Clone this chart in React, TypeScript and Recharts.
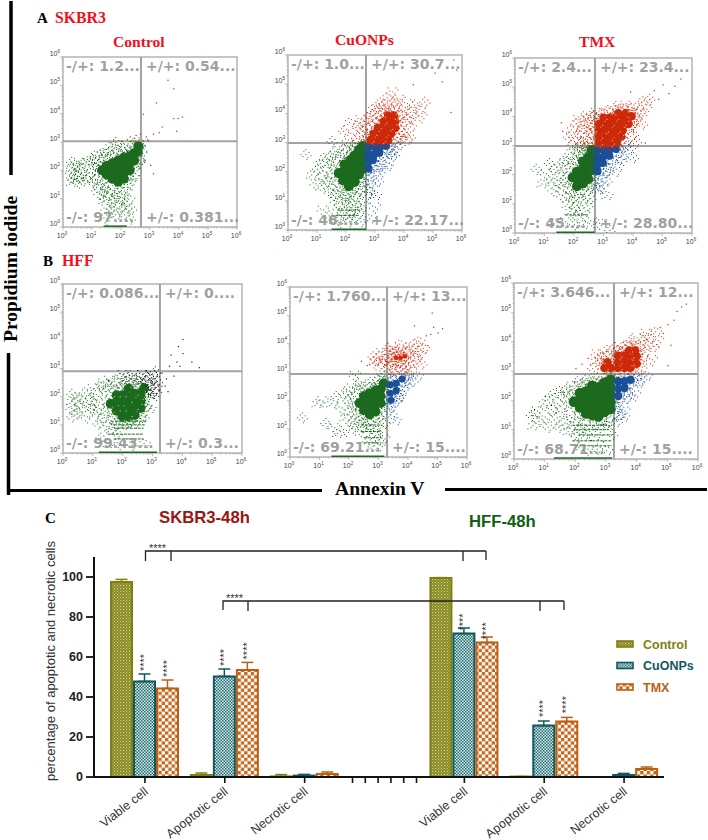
import React from "react";
import {
  BarChart, Bar, XAxis, YAxis, ErrorBar, LabelList, Label,
  ScatterChart, Scatter, ReferenceLine, ReferenceArea,
} from "recharts";

type P = [number, number];

// ---- flow cytometry clouds (log10 Annexin V, log10 PI) ----
const a1GreenCore: P[] = [[1.35,2],[1.5,1.85],[1.5,2.15],[1.7,1.7],[1.7,2],[1.7,2.25],[1.9,1.6],[1.9,1.85],[1.9,2.1],[1.9,2.35],[2.1,1.7],[2.1,1.95],[2.1,2.2],[2.1,2.45],[2.3,2],[2.3,2.25],[2.3,2.5],[2.45,2.35],[2.45,2.6],[2.58,2.65],[2.6,2.85]];
const a1GreenDots: P[] = [[.28,2.3],[.28,2.1],[.28,1.95],[.28,1.75],[.28,1.6],[.42,2.2],[.42,1.9],[.42,1.7],[.55,2.3],[.55,2.05],[.55,1.8],[.55,1.6],[.68,2.25],[.68,2.1],[.68,1.85],[.68,1.65],[.85,2.35],[.9,1.8],[1,2.4],[1,2.15],[1,1.9],[1,1.6],[1.1,2.55],[1.1,2.25],[1.1,1.7],[1.15,1.4],[1.2,2.4],[1.2,2.05],[1.2,1.5],[1.25,1.2],[1.3,2.3],[1.3,2.6],[1.35,1.55],[1.35,1.25],[1.4,.95],[1.45,2.5],[1.45,1.4],[1.45,1.1],[1.5,.65],[1.55,2.65],[1.55,1.25],[1.6,.95],[1.65,.65],[1.7,2.7],[1.7,1.3],[1.75,1.05],[1.8,.8],[1.85,2.6],[1.85,1.2],[1.9,.95],[1.95,.65],[2,2.75],[2,1.3],[2.05,1.05],[2.1,.85],[2.15,.65],[2.2,1.25],[2.2,2.7],[2.25,1],[2.3,1.55],[2.35,.65],[2.4,1.8],[2.2,2.9],[2.4,2.95],[2.5,2.2],[2.55,2.45],[1.8,3],[1.6,2.85],[2.65,2.3],[2.3,1.75],[1.4,2.65],[1.9,2.9],[2.1,.45],[1.8,.45],[1.5,.3],[2.3,.3]];
const a1Red: P[] = [[2,3.05],[2.2,3.1],[2.3,3.2],[2.4,3.05],[2.5,3.25],[2.6,3.1],[2.75,3.05],[2.9,3.1],[3.1,3.3],[3.3,3.35],[2.85,3.2],[3.4,3.55],[3.8,3.85],[3.95,3.85],[4.1,3.9],[3.6,5.2],[3.8,4.9],[2.75,4],[3.2,4.4],[3.9,3.4],[2.45,3.15],[2.65,3.3]];
const a1Blue: P[] = [[2.72,2.92],[2.75,2.82],[2.8,2.9],[2.8,2.3],[3,2.2],[3.1,1.9]];

const a2GreenCore: P[] = [[1.75,1.95],[1.9,1.7],[1.9,2],[1.95,2.25],[2.1,1.5],[2.1,1.8],[2.1,2.1],[2.15,2.4],[2.3,1.65],[2.3,1.95],[2.3,2.25],[2.3,2.55],[2.45,1.9],[2.45,2.2],[2.45,2.5],[2.45,2.75],[2.58,2.1],[2.58,2.4],[2.58,2.65],[2.58,2.88]];
const a2GreenDots: P[] = [[.6,2.6],[.8,1.9],[.95,1.6],[1,2.1],[1.1,2.3],[1.15,1.75],[1.2,1.45],[1.25,2.5],[1.3,2],[1.35,1.7],[1.35,2.3],[1.45,1.45],[1.45,2.55],[1.5,2.1],[1.5,1.8],[1.55,1.2],[1.55,2.35],[1.6,1.55],[1.6,2.7],[1.65,1.9],[1.65,1],[1.7,2.5],[1.7,1.35],[1.75,.75],[1.8,1.15],[1.8,2.65],[1.85,.95],[1.85,1.4],[1.9,2.8],[1.9,.6],[1.95,1.2],[2,.85],[2,2.6],[2.05,1.1],[2.05,.45],[2.1,2.8],[2.15,.95],[2.15,1.3],[2.2,.65],[2.2,2.9],[2.25,1.15],[2.3,.85],[2.3,.45],[2.35,1.3],[2.4,2.95],[2.45,1],[2.45,.65],[2.5,1.4],[2.5,.3],[2.55,1.65],[2.6,.85],[2.65,1.5],[2.65,1.2],[1.2,.7],[1.4,.5],[1.6,.35],[1.8,.3],[2.1,.3],[2,3],[2.25,2.75],[1.5,3.05]];
const a2BlueCore: P[] = [[2.78,2.85],[2.98,2.85],[3.18,2.85],[3.38,2.88],[2.78,2.6],[2.98,2.6],[3.15,2.65],[2.78,2.35],[2.93,2.4],[2.78,2.1]];
const a2BlueDots: P[] = [[3.5,2.9],[3.6,2.75],[3.7,2.9],[3.85,2.95],[3.45,2.6],[3.3,2.4],[3.15,2.3],[3.05,2.1],[2.95,1.95],[2.85,1.8],[2.78,1.6],[2.9,1.45],[3.1,1.7],[3.4,2.2],[3.55,2.45],[2.8,1.3],[3,1.2],[3.25,2.05],[3.65,2.6],[2.8,.4],[3,.8]];
const a2RedCore: P[] = [[2.85,3.08],[3.05,3.08],[3.25,3.08],[3.45,3.08],[2.95,3.3],[3.15,3.3],[3.35,3.3],[3.55,3.3],[3.1,3.5],[3.3,3.52],[3.5,3.52],[3.7,3.5],[3.3,3.72],[3.5,3.72],[3.7,3.72],[3.45,3.92],[3.65,3.92]];
const a2RedDots: P[] = [[1.9,3.4],[2.1,3.7],[2.25,3.3],[2.35,3.15],[2.4,3.6],[2.5,3.8],[2.55,3.4],[2.6,3.1],[2.65,3.55],[2.7,3.85],[2.75,3.3],[2.8,3.6],[2.85,3.9],[2.9,4.15],[2.95,3.7],[3,4],[3.05,4.25],[3.1,3.8],[3.15,4.1],[3.2,4.4],[3.3,4.05],[3.3,4.3],[3.4,4.55],[3.45,4.2],[3.55,4.1],[3.6,4.4],[3.7,4.05],[3.75,4.3],[3.85,3.95],[3.85,4.5],[3.9,3.4],[3.95,3.7],[4,4.1],[4,3.3],[4.1,3.8],[4.1,4.35],[4.2,4.05],[4.2,3.55],[4.3,3.85],[4.35,4.3],[4.5,4.15],[4.6,3.9],[4.7,4.4],[4.05,3.1],[3.85,3.15],[4.2,3.2],[3.75,3.2],[3.6,4.75]];
const a2RedFar: P[] = [[4.3,5],[5.05,5.4],[5.3,5.1],[5.7,5.85],[5.8,5.5],[5.6,4.05]];

const a3GreenCore: P[] = [[1.95,1.9],[2.1,1.6],[2.1,1.85],[2.1,2.1],[2.3,1.7],[2.3,1.95],[2.3,2.2],[2.3,2.45],[2.48,1.85],[2.48,2.1],[2.48,2.35],[2.48,2.6],[2.6,2.15],[2.6,2.4],[2.6,2.65],[2.6,2.85]];
const a3GreenDots: P[] = [[.7,2.2],[.9,1.7],[1.05,2.05],[1.15,2.4],[1.2,1.8],[1.3,1.5],[1.3,2.2],[1.4,1.95],[1.45,1.6],[1.5,2.35],[1.55,1.75],[1.6,1.3],[1.6,2.15],[1.65,2.5],[1.7,1.6],[1.7,1.9],[1.75,1],[1.8,1.35],[1.8,2.4],[1.85,.75],[1.85,2.6],[1.9,1.15],[1.9,1.5],[1.95,2.25],[2,.9],[2,1.3],[2,2.75],[2.05,.6],[2.1,2.5],[2.15,1.1],[2.2,.8],[2.2,1.4],[2.2,2.8],[2.25,2.6],[2.3,1.15],[2.35,.65],[2.35,2.95],[2.4,1.45],[2.4,2.8],[2.45,.95],[2.5,1.6],[2.5,2.95],[2.55,1.2],[2.6,1.8],[2.65,.4],[2.65,1.5],[1.3,.35],[1.7,.4],[2,.3],[2.3,.3],[1.95,2.9],[2.1,2.95],[2.25,3]];
const a3BlueCore: P[] = [[2.8,2.85],[3,2.85],[3.2,2.85],[3.42,2.88],[2.8,2.6],[3,2.62],[3.2,2.65],[2.8,2.35],[2.98,2.4],[2.8,2.12]];
const a3BlueDots: P[] = [[3.55,2.85],[3.65,2.7],[3.75,2.92],[3.9,2.95],[3.45,2.5],[3.3,2.35],[3.15,2.2],[3,2.05],[2.9,1.85],[2.8,1.7],[2.78,1.5],[2.95,1.6],[3.1,1.8],[3.35,2.1],[3.6,2.4],[4,2.6],[3.1,1.3],[2.85,.35],[3.2,.1]];
const a3RedCore: P[] = [[2.85,3.08],[3.05,3.08],[3.25,3.08],[3.45,3.1],[2.85,3.3],[3.05,3.3],[3.25,3.3],[3.45,3.32],[3.6,3.3],[2.85,3.52],[3.05,3.52],[3.25,3.52],[3.45,3.52],[3.65,3.52],[2.85,3.74],[3.05,3.74],[3.25,3.74],[3.45,3.74],[3.65,3.74],[3.85,3.74],[3,3.95],[3.2,3.95],[3.4,3.95],[3.6,3.95],[3.8,3.95],[3.5,4.1],[3.75,4.1],[3.95,4]];
const a3RedDots: P[] = [[1.8,3.3],[1.9,3.55],[2,3.15],[2.05,3.75],[2.1,3.4],[2.15,3.9],[2.2,3.1],[2.25,3.6],[2.3,3.3],[2.3,4],[2.35,3.75],[2.4,3.15],[2.4,3.5],[2.45,3.95],[2.5,3.3],[2.5,3.7],[2.55,4.05],[2.55,3.1],[2.6,3.5],[2.6,3.85],[2.65,3.25],[2.65,4.05],[2.7,3.7],[2.75,4.15],[2.9,4.1],[3.1,4.2],[3.3,4.25],[3.4,4.35],[3.6,4.3],[3.75,4.4],[3.85,4.25],[3.95,4.3],[4,3.7],[4,3.4],[4.05,4.15],[4.1,3.9],[4.1,3.15],[4.2,4.4],[4.25,4.1],[4.3,3.75],[4.35,4.55],[4.45,4.25],[4.55,4.6],[3.75,3.15]];
const a3RedFar: P[] = [[1.55,3.8],[1.6,3.5],[4.7,4.9],[4.85,4.6],[3.9,4.85],[5,5.1],[5.2,4.8],[5.4,5.05],[5.6,5.3],[4.4,3.1]];

const b1GreenCore: P[] = [[1.6,1.75],[1.8,1.5],[1.8,1.8],[1.8,2.05],[2,1.3],[2,1.55],[2,1.8],[2,2.05],[2.2,1.3],[2.2,1.55],[2.2,1.8],[2.2,2.05],[2.2,2.28],[2.4,1.35],[2.4,1.6],[2.4,1.85],[2.4,2.1],[2.6,1.6],[2.6,1.85],[2.6,2.1],[2.72,2.3]];
const b1GreenDots: P[] = [[.28,2.1],[.28,1.85],[.28,1.6],[.28,1.3],[.45,2],[.45,1.7],[.45,1.4],[.55,1.9],[.55,1.55],[.7,2.15],[.7,1.7],[.8,1.3],[.9,1.95],[.9,1.6],[1,2.3],[1,1.75],[1.05,1.4],[1.1,2.1],[1.15,1.05],[1.2,2.4],[1.2,1.6],[1.3,1.9],[1.3,1.25],[1.35,2.5],[1.4,2.2],[1.4,1.5],[1.45,.95],[1.5,2.4],[1.5,1.2],[1.55,2.6],[1.6,.85],[1.6,2.3],[1.65,1.3],[1.7,2.55],[1.7,1],[1.8,2.4],[1.8,.7],[1.85,1.15],[1.9,2.65],[1.95,2.4],[2,1],[2.05,2.7],[2.1,2.5],[2.15,1.05],[2.2,2.7],[2.3,2.55],[2.35,1.05],[2.4,2.8],[2.5,2.45],[2.55,1.25],[2.6,2.7],[2.7,1.3],[2.75,1.65],[2.8,1.9],[2.85,2.1],[2.9,1.6],[3,2.2],[1.25,.55],[1.5,.35],[1.9,.35],[2.3,.3],[2.7,.35]];
const b1Dark: P[] = [[2.75,2.55],[2.8,2.75],[2.85,2.35],[2.9,2.6],[2.92,2.1],[2.95,2.8],[3,2.45],[3,2.2],[3.05,2.65],[3.08,2.9],[3.1,2.35],[3.12,2.1],[3.15,2.55],[2.6,2.55],[2.65,2.8],[2.45,2.65],[2.25,2.65],[2,2.8]];
const b1DarkFar: P[] = [[3.4,2.4],[3.5,2.2],[3.45,2.65],[3.3,2.85],[3.7,2.75],[3.55,3.1],[3.8,3.25],[4,3.55],[4.3,3.25],[4.55,3.05],[3.9,3.1],[3.6,3.5],[4,4.05],[3.85,3.8],[1.5,2.6],[1.2,2.3],[.95,2],[1.05,1.7]];

const b2GreenCore: P[] = [[2.35,1.9],[2.5,1.65],[2.5,1.9],[2.5,2.15],[2.7,1.5],[2.7,1.75],[2.7,2],[2.7,2.25],[2.9,1.6],[2.9,1.85],[2.9,2.1],[2.9,2.35],[3.08,1.9],[3.08,2.15],[3.08,2.4],[3.17,2.6]];
const b2GreenDots: P[] = [[.4,1.4],[.9,1.9],[1.1,2],[1.2,1.2],[1.4,1.9],[1.5,1.05],[1.55,2.15],[1.6,.85],[1.75,1.75],[1.8,2.25],[1.85,1.4],[1.9,.95],[1.95,2],[2,1.6],[2,2.35],[2.05,1.2],[2.1,1.85],[2.1,2.45],[2.15,1.5],[2.2,2.15],[2.2,1],[2.25,1.25],[2.25,2.4],[2.3,1.65],[2.3,2.6],[2.35,1.3],[2.4,.95],[2.4,2.45],[2.45,1.15],[2.55,1.35],[2.55,2.55],[2.6,1],[2.65,1.2],[2.7,2.65],[2.75,.85],[2.8,1.3],[2.85,2.65],[2.9,1.1],[2.95,.7],[3,1.4],[3,2.75],[3.05,.95],[3.1,1.55],[3.15,1.2],[3.2,.65],[2.6,.55],[2.8,.4],[3.05,.45],[3.1,2.95],[3.2,2.9],[2.2,2.9]];
const b2BlueCore: P[] = [[3.4,2.55],[3.6,2.6],[3.8,2.75],[3.4,2.25],[3.6,2.35],[3.42,2]];
const b2BlueDots: P[] = [[3.35,1.7],[3.4,1.5],[3.5,1.85],[3.6,2],[3.7,2.15],[3.8,2.4],[3.95,2.55],[3.55,1.3],[4,2.8],[4.15,2.7],[4.3,2.88],[3.6,2.85],[3.4,2.85],[3.9,2.88],[3.75,2.2]];
const b2RedCore: P[] = [[3.6,3.5],[3.75,3.5],[3.9,3.55]];
const b2RedDots: P[] = [[2.8,3.55],[2.85,3.4],[2.9,3.3],[3,3.55],[3.05,3.35],[3.1,3.7],[3.2,3.45],[3.25,3.25],[3.3,3.6],[3.3,3.85],[3.35,3.35],[3.4,3.1],[3.4,3.65],[3.45,3.45],[3.45,3.9],[3.5,3.3],[3.5,3.7],[3.55,3.1],[3.55,3.45],[3.6,3.75],[3.65,3.25],[3.65,3.65],[3.7,4],[3.75,3.75],[3.75,3.05],[3.8,3.3],[3.85,3.75],[3.9,3.2],[3.95,3.9],[4,3.55],[4,3.3],[4.05,3.8],[4.1,3.05],[4.15,3.6],[4.2,4],[4.25,3.4],[4.3,3.75],[4.35,4.1],[4.4,3.6],[4.45,3.3],[4.5,3.85],[3.95,3.1]];
const b2RedFar: P[] = [[2.4,3.4],[2.6,3.25],[4.6,4.3],[4.65,3.95],[4.75,4.35],[4.85,4.6],[5,4.4],[5.15,4.55],[4.8,5.1],[4.2,4.65]];

const b3GreenCore: P[] = [[1.95,1.95],[2.15,1.75],[2.15,2],[2.15,2.25],[2.35,1.55],[2.35,1.8],[2.35,2.05],[2.35,2.3],[2.55,1.5],[2.55,1.75],[2.55,2],[2.55,2.25],[2.55,2.5],[2.75,1.45],[2.75,1.7],[2.75,1.95],[2.75,2.2],[2.75,2.45],[2.95,1.6],[2.95,1.85],[2.95,2.1],[2.95,2.35],[2.95,2.6],[3.15,1.7],[3.15,1.95],[3.15,2.2],[3.15,2.45],[3.15,2.7]];
const b3GreenDots: P[] = [[.55,1.5],[.6,1.15],[.75,1.65],[.8,1.3],[.95,1.9],[1,1.45],[1.1,1.1],[1.15,2.1],[1.2,1.7],[1.3,1.35],[1.3,2.25],[1.4,1.9],[1.45,1.1],[1.5,2.35],[1.55,1.6],[1.6,2.1],[1.65,1.25],[1.7,1.85],[1.7,2.4],[1.75,.95],[1.8,1.5],[1.8,2.2],[1.85,1.15],[1.9,2.5],[1.95,.85],[2,1.35],[2,2.35],[2.05,2.65],[2.1,1],[2.15,1.4],[2.2,2.5],[2.25,.8],[2.3,1.2],[2.3,2.7],[2.4,2.55],[2.45,.95],[2.5,2.75],[2.6,1.15],[2.65,2.65],[2.7,.85],[2.8,1.15],[2.85,2.8],[3,1.2],[3.05,2.85],[3.15,1.25],[3.2,.85],[2.1,.4],[2.4,.35],[2.7,.35],[3,.3]];
const b3Dark: P[] = [[.6,1.5],[.65,1.7],[1,2.15],[1.2,1.85],[1.35,1.6],[1.55,2.3],[1.7,1.45],[1.95,2.65],[2.9,1.2],[3,1.3],[3.1,1.15],[3.2,1.35],[2.1,.6],[2.5,.65],[2.9,.6],[2.2,2.75]];
const b3BlueCore: P[] = [[3.4,2.65],[3.6,2.65],[3.8,2.7],[3.4,2.4],[3.6,2.42],[3.4,2.15]];
const b3BlueDots: P[] = [[3.95,2.8],[4.05,2.6],[3.85,2.4],[3.75,2.2],[3.6,2.05],[3.5,1.85],[3.35,1.75],[3.4,1.5],[3.6,1.65],[4.15,2.75],[4.3,2.85],[3.95,2.2],[3.35,1.3],[3.55,1.45]];
const b3RedCore: P[] = [[2.95,3.1],[3.15,3.1],[3.4,3.1],[3.6,3.1],[3.8,3.1],[3.05,3.3],[3.4,3.3],[3.6,3.3],[3.8,3.3],[4,3.25],[3.4,3.52],[3.6,3.52],[3.8,3.52],[4,3.5],[3.75,3.7],[3.95,3.7]];
const b3RedDots: P[] = [[2.55,3.1],[2.65,3.35],[2.7,3.6],[2.8,3.45],[2.85,3.3],[2.9,3.6],[3,3.5],[3.05,3.75],[3.2,3.55],[3.25,3.8],[3.35,3.7],[3.45,3.85],[3.5,3.65],[3.6,3.9],[3.7,3.85],[3.8,4.05],[3.9,3.9],[4,4.15],[4.1,3.85],[4.1,3.4],[4.15,3.05],[4.2,4.05],[4.25,3.65],[4.3,4.3],[4.35,3.9],[4.4,4.15],[4.5,3.4],[4.55,3.85],[4.6,4.35],[4.7,4.05]];
const b3RedFar: P[] = [[2,3.1],[2.2,3.25],[2.4,3.45],[4.75,4.5],[4.85,4.3],[5,4.6],[5.1,3.9],[5,3.2],[5.3,5.05],[5.45,5.2],[5.6,5.3],[5.2,4.75]];

// short horizontal rows of events at the low PI channels and on the axis
const a1Rows: P[][] = [[[1.4,.03],[2.2,.03]]];
const a2Rows: P[][] = [[[1.5,.03],[2.7,.03]],[[1.5,.5],[2.4,.5]],[[1.7,.68],[2.5,.68]]];
const a3Rows: P[][] = [[[1.4,.03],[2.7,.03]],[[1.7,.62],[2.5,.62]]];
const b1Rows: P[][] = [[[1.2,.03],[3.15,.03]],[[1.75,1.13],[2.8,1.13]],[[1.7,1],[2.75,1]],[[1.7,.88],[2.7,.88]],[[1.5,.67],[2.7,.67]],[[1.7,.5],[2.7,.5]]];
const b2Rows: P[][] = [[[1.4,.03],[3.2,.03]],[[2.4,1.13],[3.1,1.13]],[[2.4,.9],[3.1,.9]],[[2.5,.68],[3.1,.68]],[[2.5,.5],[3.1,.5]]];
const b3Rows: P[][] = [[[1.3,.03],[3.2,.03]],[[1.9,1.15],[3.1,1.15]],[[2,1],[3.1,1]],[[2.1,.82],[3.2,.82]],[[1.9,.62],[3.2,.62]],[[2,.45],[3.2,.45]]];

// ---- flow panel labels ----
const panelNames = ["Control", "CuONPs", "TMX"];
const a1Quad = ["-/+: 1.2...", "+/+: 0.54...", "-/-: 97....", "+/-: 0.381..."];
const a2Quad = ["-/+: 1.0...", "+/+: 30.7...", "-/-: 46....", "+/-: 22.17..."];
const a3Quad = ["-/+: 2.4...", "+/+: 23.4...", "-/-: 45....", "+/-: 28.80..."];
const b1Quad = ["-/+: 0.086...", "+/+: 0....", "-/-: 99.43...", "+/-: 0.3..."];
const b2Quad = ["-/+: 1.760...", "+/+: 13...", "-/-: 69.21...", "+/-: 15...."];
const b3Quad = ["-/+: 3.646...", "+/+: 12...", "-/-: 68.71...", "+/-: 15...."];
const decades = [1, 10, 100, 1000, 10000, 100000, 1000000];
const minorSteps = [2, 3, 4, 5, 6, 7, 8, 9];

// ---- bar chart data ----
const categories = ["Viable cell", "Apoptotic cell", "Necrotic cell", "", "Viable cell", "Apoptotic cell", "Necrotic cell"];
const controlValues = [97.5, 1, 0.3, null, 99.5, 0.2, 0];
const cuonpValues = [47.8, 50.3, 0.7, null, 71.7, 25.7, 1];
const tmxValues = [44.3, 53.5, 1.5, null, 67.3, 27.7, 4];
const controlErr = [1.3, 1, 0.9, 0, 0.2, 0, 0];
const cuonpErr = [3.7, 3.7, 0.6, 0, 2.8, 2.3, 0.8];
const tmxErr = [4.2, 3.8, 1, 0, 2.7, 2.1, 1];
const cuonpStars = ["****", "****", "", "", "****", "****", ""];
const tmxStars = ["****", "****", "", "", "****", "****", ""];
const yTicks = [0, 20, 40, 60, 80, 100];

const OLIVE = "#7f7f12";
const TEAL = "#0f5a60";
const ORANGE = "#bd5f12";
const GREEN = "#1c6a1e";
const RED = "#cc2a08";
const BLUE = "#1b4f97";
const DARK = "#14201a";
const SERIF = "'Liberation Serif', serif";
const SANS = "'Liberation Sans', sans-serif";

const toRows = (pts: P[]) => pts.map(([x, y]) => ({ x: 10 ** x, y: 10 ** y }));
const logTicks = [...decades, ...decades.slice(0, 6).flatMap((d) => minorSteps.map((m) => d * m))].sort((a, b) => a - b);

const barRows = categories.map((name, i) => ({
  name,
  control: controlValues[i],
  cuonp: cuonpValues[i],
  tmx: tmxValues[i],
  controlBar: [0, controlErr[i]],
  cuonpBar: [0, cuonpErr[i]],
  tmxBar: [0, tmxErr[i]],
  cuonpStar: cuonpStars[i],
  tmxStar: tmxStars[i],
}));

// marker glyphs: each marker is a little speckle of pixels, as on the cytometer's dot plot
const speckleA: P[] = [[0,0],[3,-2],[-3,2],[-2,-3],[2,3],[-5,0],[5,1],[0,-5],[1,5]];
const speckleB: P[] = [[0,0],[-2,2],[2,-3],[4,2],[-4,-2],[-1,-4],[3,4],[-5,3],[6,-1]];
const speckleC: P[] = [[0,0],[2,2],[-3,-1],[3,-4],[-2,4],[5,-2],[-5,-4],[0,6],[-6,1]];
const speckles = [speckleA, speckleB, speckleC];
const haloDirs: P[] = [[1,0],[.87,.5],[.5,.87],[0,1],[-.5,.87],[-.87,.5],[-1,0],[-.87,-.5],[-.5,-.87],[0,-1],[.5,-.87],[.87,-.5]];
const haloReach = [1, 3.5, 2, 5, 1.5, 4, 2.5, 6];
const whiteFlecks: P[] = [[2,-2],[-3,1],[1,3]];

type Layer = { pts: P[]; color: string; kind: "core" | "fuzz" | "dot"; r?: number; fleck?: boolean };
type Panel = { left: number; top: number; w: number; h: number; gateX: number; gateY: number; quad: string[]; rows: P[][]; layers: Layer[] };

const panels: Panel[] = [
  { left: 63, top: 57, w: 174, h: 170, gateX: 2.69, gateY: 3.03, quad: a1Quad, rows: a1Rows, layers: [
    { pts: a1GreenDots, color: GREEN, kind: "fuzz" }, { pts: a1GreenCore, color: GREEN, kind: "core", r: 5 }, { pts: a1Red, color: RED, kind: "dot" }, { pts: a1Blue, color: BLUE, kind: "dot" } ] },
  { left: 288, top: 55, w: 174, h: 175, gateX: 2.69, gateY: 2.98, quad: a2Quad, rows: a2Rows, layers: [
    { pts: a2GreenDots, color: GREEN, kind: "fuzz" }, { pts: a2GreenCore, color: GREEN, kind: "core", r: 5 }, { pts: a2BlueDots, color: BLUE, kind: "fuzz" }, { pts: a2BlueCore, color: BLUE, kind: "core", r: 4 }, { pts: a2RedDots, color: RED, kind: "fuzz" }, { pts: a2RedFar, color: RED, kind: "dot" }, { pts: a2RedCore, color: RED, kind: "core", r: 4.3, fleck: true } ] },
  { left: 515, top: 58, w: 177, h: 175, gateX: 2.71, gateY: 2.98, quad: a3Quad, rows: a3Rows, layers: [
    { pts: a3GreenDots, color: GREEN, kind: "fuzz" }, { pts: a3GreenCore, color: GREEN, kind: "core", r: 5 }, { pts: a3BlueDots, color: BLUE, kind: "fuzz" }, { pts: a3BlueCore, color: BLUE, kind: "core", r: 4 }, { pts: a3RedDots, color: RED, kind: "fuzz" }, { pts: a3RedFar, color: RED, kind: "dot" }, { pts: a3RedCore, color: RED, kind: "core", r: 4.3, fleck: true } ] },
  { left: 63, top: 284, w: 179, h: 169, gateX: 3.25, gateY: 2.9, quad: b1Quad, rows: b1Rows, layers: [
    { pts: b1GreenDots, color: GREEN, kind: "fuzz" }, { pts: b1GreenCore, color: GREEN, kind: "core", r: 5, fleck: true }, { pts: b1Dark, color: DARK, kind: "fuzz" }, { pts: b1DarkFar, color: DARK, kind: "dot" } ] },
  { left: 290, top: 287, w: 177, h: 170, gateX: 3.29, gateY: 2.93, quad: b2Quad, rows: b2Rows, layers: [
    { pts: b2GreenDots, color: GREEN, kind: "fuzz" }, { pts: b2GreenCore, color: GREEN, kind: "core", r: 4.8 }, { pts: b2BlueDots, color: BLUE, kind: "fuzz" }, { pts: b2BlueCore, color: BLUE, kind: "core", r: 3.6 }, { pts: b2RedDots, color: RED, kind: "fuzz" }, { pts: b2RedFar, color: RED, kind: "dot" }, { pts: b2RedCore, color: RED, kind: "core", r: 2.4 } ] },
  { left: 514, top: 283, w: 184, h: 176, gateX: 3.26, gateY: 2.9, quad: b3Quad, rows: b3Rows, layers: [
    { pts: b3GreenDots, color: GREEN, kind: "fuzz" }, { pts: b3GreenCore, color: GREEN, kind: "core", r: 5.2 }, { pts: b3Dark, color: DARK, kind: "dot" }, { pts: b3BlueDots, color: BLUE, kind: "fuzz" }, { pts: b3BlueCore, color: BLUE, kind: "core", r: 4.2 }, { pts: b3RedDots, color: RED, kind: "fuzz" }, { pts: b3RedFar, color: RED, kind: "dot" }, { pts: b3RedCore, color: RED, kind: "core", r: 4.3, fleck: true } ] },
];

function Marker({ cx, cy, index, layer }: any) {
  const { color, kind, r, fleck } = layer as Layer;
  const i = index ?? 0;
  if (kind === "dot") return <rect x={cx} y={cy} width={1.2} height={1.2} fill={color} />;
  if (kind === "fuzz") {
    return (
      <g>
        {speckles[i % 3].map(([dx, dy], k) => (
          <rect key={k} x={cx + dx} y={cy + dy} width={1} height={1} fill={color} />
        ))}
      </g>
    );
  }
  return (
    <g>
      <circle cx={cx} cy={cy} r={r} fill={color} />
      {haloDirs.map(([ux, uy], k) => {
        const d = (r as number) + haloReach[(k + i * 3) % haloReach.length];
        return <rect key={k} x={cx + ux * d} y={cy + uy * d} width={1} height={1} fill={color} />;
      })}
      {fleck && whiteFlecks.filter((_, k) => (i + k) % 2 === 0).map(([dx, dy], k) => (
        <rect key={"w" + k} x={cx + dx} y={cy + dy} width={1} height={1} fill="#fff" fillOpacity={0.8} />
      ))}
    </g>
  );
}

const decadeExp = (v: number) => {
  const e = Math.log10(v);
  return Math.abs(e - Math.round(e)) < 1e-6 ? Math.round(e) : null;
};

function LogXTick({ x, y, payload }: any) {
  const e = decadeExp(payload.value);
  return (
    <g>
      <line x1={x} x2={x} y1={y} y2={y + (e === null ? 1.5 : 3)} stroke="#a5a5a5" strokeWidth={0.7} />
      {e !== null && (
        <text x={x - 1} y={y + 11} textAnchor="middle" fontFamily={SANS} fontSize={7} fill="#444">
          10<tspan fontSize={4.5} dy={-3}>{e}</tspan>
        </text>
      )}
    </g>
  );
}
function LogYTick({ x, y, payload }: any) {
  const e = decadeExp(payload.value);
  return (
    <g>
      <line x1={x} x2={x - (e === null ? 1.5 : 3)} y1={y} y2={y} stroke="#a5a5a5" strokeWidth={0.7} />
      {e !== null && (
        <text x={x - 3} y={y - 1} textAnchor="end" fontFamily={SANS} fontSize={7} fill="#444">
          10<tspan fontSize={4.5} dy={-3}>{e}</tspan>
        </text>
      )}
    </g>
  );
}

function FlowPanel({ p }: { p: Panel }) {
  const pad = { l: 32, t: 8, r: 12, b: 22 };
  return (
    <div style={{ position: "absolute", left: p.left - pad.l, top: p.top - pad.t }}>
      <ScatterChart width={p.w + pad.l + pad.r} height={p.h + pad.t + pad.b} margin={{ top: pad.t, right: pad.r, bottom: 0, left: 0 }}>
        <XAxis type="number" dataKey="x" scale="log" domain={[1, 1000000]} ticks={logTicks} interval={0} height={pad.b} allowDataOverflow
          tick={<LogXTick />} tickLine={false} tickSize={0} tickMargin={0} axisLine={false} />
        <YAxis type="number" dataKey="y" scale="log" domain={[1, 1000000]} ticks={logTicks} interval={0} width={pad.l} allowDataOverflow
          tick={<LogYTick />} tickLine={false} tickSize={0} tickMargin={0} axisLine={false} />
        {p.rows.map((row, i) => (
          <Scatter key={"row" + i} data={toRows(row)} isAnimationActive={false} shape={() => <g />}
            line={{ stroke: GREEN, strokeWidth: i === 0 ? 1.5 : 1, strokeDasharray: i === 0 ? undefined : "3 1" }} />
        ))}
        {p.layers.map((l, i) => (
          <Scatter key={i} data={toRows(l.pts)} isAnimationActive={false}
            shape={(s: any) => <Marker cx={s.cx} cy={s.cy} index={s.index} layer={l} />} />
        ))}
        <ReferenceLine x={10 ** p.gateX} stroke="#a3a3a3" strokeWidth={2} />
        <ReferenceLine y={10 ** p.gateY} stroke="#a3a3a3" strokeWidth={2} />
        <ReferenceArea x1={1} x2={1000000} y1={1} y2={1000000} fill="none" stroke="#b4b4b4" strokeWidth={1.5} />
      </ScatterChart>
    </div>
  );
}

function QuadText({ p }: { p: Panel }) {
  const vx = p.left + (p.gateX / 6) * p.w;
  const style = { fontFamily: "'DejaVu Sans', sans-serif", fontWeight: 700, fontSize: 14, fill: "#9a9a9a", fillOpacity: 0.95 } as const;
  return (
    <g>
      <text x={p.left + 3} y={p.top + 14} {...style}>{p.quad[0]}</text>
      <text x={vx + 5} y={p.top + 14} {...style}>{p.quad[1]}</text>
      <text x={p.left + 3} y={p.top + p.h - 5} {...style}>{p.quad[2]}</text>
      <text x={vx + 5} y={p.top + p.h - 5} {...style}>{p.quad[3]}</text>
    </g>
  );
}

function CategoryTick({ x, y, payload }: any) {
  if (!payload.value || payload.value === "") {
    return (
      <g>
        {[-32, -19.2, -6.4, 6.4, 19.2, 32].map((d) => (
          <line key={d} x1={x + d} x2={x + d} y1={y} y2={y + 6} stroke="#111" strokeWidth={1.6} />
        ))}
      </g>
    );
  }
  return (
    <g>
      <line x1={x} x2={x} y1={y} y2={y + 6} stroke="#111" strokeWidth={1.6} />
      <text x={x + 4} y={y + 16} textAnchor="end" transform={`rotate(-38 ${x + 4} ${y + 16})`} fontFamily={SANS} fontSize={12.5} fill="#333">
        {payload.value}
      </text>
    </g>
  );
}

const PX_PER_UNIT = 2;
const starLabel = (errs: number[]) => (props: any) => {
  const { x, y, width, value, index } = props;
  if (!value) return null;
  const cx = x + width / 2 + 3.5;
  const by = y - errs[index] * PX_PER_UNIT - 3;
  return (
    <text x={cx} y={by} transform={`rotate(-90 ${cx} ${by})`} fontFamily={SANS} fontSize={11} fill="#333">
      {value}
    </text>
  );
};

const legendItems = [
  { label: "Control", color: OLIVE, fill: "url(#patOlive)" },
  { label: "CuONPs", color: TEAL, fill: "url(#patTeal)" },
  { label: "TMX", color: ORANGE, fill: "url(#patOrange)" },
];
function LegendBox() {
  return (
    <svg width={92} height={72} style={{ position: "absolute", left: 616, top: 632 }}>
      {legendItems.map((it, i) => (
        <g key={it.label} transform={`translate(0 ${8 + i * 21.5})`}>
          <rect x={1} y={1} width={16} height={6} fill={it.fill} stroke={it.color} strokeWidth={1.6} />
          <text x={27} y={8.5} fontFamily={SANS} fontWeight={700} fontSize={12.5} fill={it.color}>{it.label}</text>
        </g>
      ))}
    </svg>
  );
}

function BarPanel() {
  return (
    <div style={{ position: "absolute", left: 0, top: 540 }}>
      <BarChart width={708} height={300} data={barRows} barSize={21} barGap={2} barCategoryGap={0}
        margin={{ top: 17, right: 44, bottom: 0, left: 0 }}>
        <defs>
          <pattern id="patOlive" width={3} height={3} patternUnits="userSpaceOnUse">
            <rect width={3} height={3} fill="#8a8a22" />
            <rect x={0} y={0} width={1} height={1} fill="#d8d8a0" />
            <rect x={1.5} y={1.5} width={1} height={1} fill="#c8c890" />
          </pattern>
          <pattern id="patTeal" width={3} height={3} patternUnits="userSpaceOnUse">
            <rect width={3} height={3} fill="#dbeaea" />
            <rect x={0} y={0} width={1.5} height={1.5} fill="#1f6a70" />
            <rect x={1.5} y={1.5} width={1.5} height={1.5} fill="#1f6a70" />
          </pattern>
          <pattern id="patOrange" width={6.6} height={6.6} patternUnits="userSpaceOnUse">
            <rect width={6.6} height={6.6} fill="#ffffff" />
            <rect x={0} y={0} width={3.3} height={3.3} fill="#c4661a" />
            <rect x={3.3} y={3.3} width={3.3} height={3.3} fill="#c4661a" />
          </pattern>
        </defs>
        <XAxis dataKey="name" interval={0} height={63} tick={<CategoryTick />} tickLine={false} tickSize={0} tickMargin={0}
          padding={{ left: 11, right: 0 }} axisLine={{ stroke: "#111", strokeWidth: 2 }} allowDuplicatedCategory />
        <YAxis type="number" domain={[0, 110]} ticks={yTicks} width={94} interval={0}
          tick={{ fontFamily: SANS, fontWeight: 700, fontSize: 12.5, fill: "#222" }}
          tickLine={{ stroke: "#111", strokeWidth: 1.8 }} tickSize={8} tickMargin={3}
          axisLine={{ stroke: "#111", strokeWidth: 2 }}>
          <Label value="percentage of apoptotic and necrotic cells" angle={-90} position="insideLeft" offset={0} dx={50} dy={-6}
            style={{ fontFamily: SANS, fontSize: 13, fill: "#333", textAnchor: "middle" }} />
        </YAxis>
        <Bar dataKey="control" fill="url(#patOlive)" stroke={OLIVE} strokeWidth={2} isAnimationActive={false}>
          <ErrorBar dataKey="controlBar" direction="y" width={6} stroke={OLIVE} strokeWidth={1.5} isAnimationActive={false} />
        </Bar>
        <Bar dataKey="cuonp" fill="url(#patTeal)" stroke={TEAL} strokeWidth={2} isAnimationActive={false}>
          <ErrorBar dataKey="cuonpBar" direction="y" width={6} stroke={TEAL} strokeWidth={1.5} isAnimationActive={false} />
          <LabelList dataKey="cuonpStar" content={starLabel(cuonpErr)} />
        </Bar>
        <Bar dataKey="tmx" fill="url(#patOrange)" stroke={ORANGE} strokeWidth={2} isAnimationActive={false}>
          <ErrorBar dataKey="tmxBar" direction="y" width={6} stroke={ORANGE} strokeWidth={1.5} isAnimationActive={false} />
          <LabelList dataKey="tmxStar" content={starLabel(tmxErr)} />
        </Bar>
      </BarChart>
    </div>
  );
}

function Annotations() {
  const red = "#f01020";
  const serifBold = { fontFamily: SERIF, fontWeight: 700 } as const;
  const bracket = "#222";
  return (
    <svg width={708} height={840} style={{ position: "absolute", left: 0, top: 0, pointerEvents: "none" }}>
      <line x1={11} x2={11} y1={1} y2={175} stroke="#000" strokeWidth={3.5} />
      <line x1={8.5} x2={8.5} y1={353} y2={495} stroke="#000" strokeWidth={3.5} />
      <line x1={7} x2={322} y1={490.5} y2={490.5} stroke="#000" strokeWidth={3} />
      <line x1={445} x2={707} y1={489.5} y2={489.5} stroke="#000" strokeWidth={3} />
      <text x={17} y={342} transform="rotate(-90 17 342)" fontSize={19.6} {...serifBold}>Propidium iodide</text>
      <text x={335} y={495} fontSize={19.6} {...serifBold}>Annexin V</text>

      <text x={37} y={23} fontSize={15} {...serifBold}>A</text>
      <text x={55} y={23} fontSize={15.8} fill={red} {...serifBold}>SKBR3</text>
      <text x={113} y={47} fontSize={15.6} fill={red} {...serifBold}>{panelNames[0]}</text>
      <text x={335} y={45} fontSize={15.6} fill={red} {...serifBold}>{panelNames[1]}</text>
      <text x={579} y={47} fontSize={15.6} fill={red} {...serifBold}>{panelNames[2]}</text>
      <text x={43} y={266} fontSize={15} {...serifBold}>B</text>
      <text x={62} y={266} fontSize={15.8} fill={red} {...serifBold}>HFF</text>
      <text x={45} y={523} fontSize={15} {...serifBold}>C</text>

      <text x={159} y={523} fontFamily={SANS} fontWeight={700} fontSize={16.7} fill="#9c1414">SKBR3-48h</text>
      <text x={469} y={527} fontFamily={SANS} fontWeight={700} fontSize={16.7} fill="#126012">HFF-48h</text>

      <path d="M145.5 561V551H486M171 561V551M463 561V551M486 560V551" fill="none" stroke={bracket} strokeWidth={1.3} />
      <path d="M223 610V601H564M248 611V601M540 611V601M564 610V601" fill="none" stroke={bracket} strokeWidth={1.3} />
      <text x={149} y={552} fontFamily={SANS} fontSize={11} fill="#333">****</text>
      <text x={226} y={602} fontFamily={SANS} fontSize={11} fill="#333">****</text>

      {panels.map((p, i) => <QuadText key={i} p={p} />)}
    </svg>
  );
}

export default function App() {
  return (
    <div style={{ position: "absolute", left: 0, top: 0, width: 708, height: 840, background: "#fff", overflow: "hidden" }}>
      {panels.map((p, i) => <FlowPanel key={i} p={p} />)}
      <BarPanel />
      <LegendBox />
      <Annotations />
    </div>
  );
}
